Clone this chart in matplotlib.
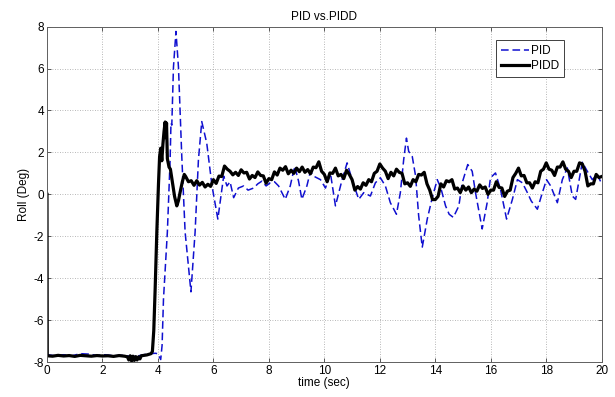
import matplotlib
matplotlib.use("Agg")
import matplotlib.pyplot as plt

plt.rcParams['font.family'] = ['Liberation Sans', 'DejaVu Sans']

title = "PID vs.PIDD"
xlabel = "time (sec)"
ylabel = "Roll (Deg)"
series_names = ["PID", "PIDD"]
x_ticks = [0, 2, 4, 6, 8, 10, 12, 14, 16, 18, 20]
y_ticks = [-8, -6, -4, -2, 0, 2, 4, 6, 8]

pid_time = [0, 0.01, 0.3, 0.6, 0.9, 1.2, 1.5, 1.8, 2.1, 2.4, 2.7, 3.0, 3.3, 3.6, 3.9, 4.0,
            4.1, 4.15, 4.2, 4.34, 4.44, 4.47, 4.5, 4.56, 4.65, 4.74, 4.86, 4.98, 5.19, 5.34,
            5.46, 5.58, 5.76, 5.95, 6.16, 6.37, 6.49, 6.6, 6.73, 6.9, 7.09, 7.25, 7.45, 7.6,
            7.75, 7.9, 8.05, 8.2, 8.35, 8.59, 8.77, 8.93, 9.07, 9.19, 9.37, 9.5, 9.61, 9.86,
            10.04, 10.22, 10.4, 10.64, 10.82, 11.0, 11.24, 11.42, 11.66, 11.84, 12.02, 12.2,
            12.38, 12.6, 12.74, 12.86, 12.96, 13.04, 13.17, 13.29, 13.4, 13.53, 13.71, 13.89,
            14.07, 14.2, 14.37, 14.5, 14.65, 14.85, 14.97, 15.17, 15.33, 15.45, 15.69, 15.87,
            15.99, 16.17, 16.35, 16.57, 16.78, 16.96, 17.14, 17.32, 17.46, 17.68, 17.86, 18.01,
            18.16, 18.4, 18.58, 18.76, 18.94, 19.06, 19.3, 19.48, 19.66, 19.84, 20.0]
pid_roll = [0, -7.65, -7.7, -7.65, -7.7, -7.6, -7.62, -7.68, -7.65, -7.7, -7.68, -7.72, -7.7, -7.62, -7.58, -7.6,
            -7.88, -7.2, -5.0, -1.8, 1.67, 3.4, 3.3, 6.07, 7.77, 6.07, 1.8, -1.8, -4.65, -1.8,
            1.65, 3.47, 2.44, 0.4, -1.18, 0.87, 0.4, 0.6, -0.16, 0.3, 0.4, 0.2, 0.3, 0.5,
            0.63, 0.4, 0.55, 0.6, 0.4, -0.24, 0.4, 1.34, 0.63, -0.24, 0.4, 1.1, 0.87, 0.7,
            0.3, 1.0, -0.55, 0.7, 1.5, 0.7, -0.24, 0.08, -0.08, 0.55, 0.79, 0.4,
            -0.4, -0.95, 0.08, 1.65, 2.68, 2.05, 1.8, 0.87, -1.02, -2.52, -1.18, -0.16,
            0.7, 0.3, -0.55, -0.95, -1.1, -0.55, 0.55, 1.42, 1.1, 0.08, -1.65, -0.4,
            0.79, 1.02, 0.24, -1.18, -0.24, 0.7, 0.55, 0.08, -0.32, -0.71, 0.08, 0.7,
            0.4, -0.4, 0.7, 1.26, -0.08, -0.24, 1.53, 1.1, 0.7, 0.94, 0.5]

pidd_time = [0, 0.01, 0.2, 0.4, 0.6, 0.8, 1.0, 1.2, 1.4, 1.6, 1.8, 2.0, 2.2, 2.4, 2.6, 2.8,
             2.9, 2.95, 3.0, 3.05, 3.1, 3.15, 3.2, 3.25, 3.3, 3.35, 3.4, 3.6, 3.75, 3.8,
             3.85, 3.9, 3.96, 4.02, 4.06, 4.1, 4.14, 4.18, 4.22, 4.26, 4.29, 4.31, 4.34, 4.4,
             4.45, 4.52, 4.6, 4.68, 4.74, 4.8, 4.88, 4.95,
             5.0, 5.1, 5.2, 5.3, 5.4, 5.5, 5.6, 5.7, 5.8, 5.9,
             6.0, 6.1, 6.2, 6.3, 6.4, 6.5, 6.6, 6.7, 6.8, 6.9,
             7.0, 7.1, 7.2, 7.3, 7.4, 7.5, 7.6, 7.7, 7.8, 7.9,
             8.0, 8.1, 8.2, 8.3, 8.4, 8.5, 8.6, 8.7, 8.8, 8.9,
             9.0, 9.1, 9.2, 9.3, 9.4, 9.5, 9.6, 9.7, 9.8, 9.9,
             10.0, 10.1, 10.2, 10.3, 10.4, 10.5, 10.6, 10.7, 10.8, 10.9,
             11.0, 11.1, 11.2, 11.3, 11.4, 11.5, 11.6, 11.7, 11.8, 11.9,
             12.0, 12.1, 12.2, 12.3, 12.4, 12.5, 12.6, 12.7, 12.8, 12.9,
             13.0, 13.1, 13.2, 13.3, 13.4, 13.5, 13.6, 13.7, 13.8, 13.9,
             14.0, 14.1, 14.2, 14.3, 14.4, 14.5, 14.6, 14.7, 14.8, 14.9,
             15.0, 15.1, 15.2, 15.3, 15.4, 15.5, 15.6, 15.7, 15.8, 15.9,
             16.0, 16.1, 16.2, 16.3, 16.4, 16.5, 16.6, 16.7, 16.8, 16.9,
             17.0, 17.1, 17.2, 17.3, 17.4, 17.5, 17.6, 17.7, 17.8, 17.9,
             18.0, 18.1, 18.2, 18.3, 18.4, 18.5, 18.6, 18.7, 18.8, 18.9,
             19.0, 19.1, 19.2, 19.3, 19.4, 19.5, 19.6, 19.7, 19.8, 19.9, 20.0]
pidd_roll = [0, -7.7, -7.72, -7.68, -7.71, -7.69, -7.73, -7.68, -7.7, -7.72, -7.69, -7.71, -7.7, -7.73, -7.69, -7.72,
             -7.75, -7.9, -7.7, -7.95, -7.72, -7.92, -7.74, -7.9, -7.75, -7.85, -7.7, -7.66, -7.6, -7.5,
             -6.5, -4.5, -1.8, 0.5, 1.8, 2.2, 1.6, 2.4, 3.0, 3.45, 2.7, 3.4, 1.7, 1.3,
             1.2, 0.6, -0.1, -0.55, -0.3, 0.1, 0.6, 0.95,
             0.85, 0.6, 0.65, 0.43, 0.65, 0.44, 0.57, 0.35, 0.48, 0.38,
             0.7, 0.52, 0.87, 0.85, 1.35, 1.2, 1.1, 0.93, 1.05, 0.9,
             1.17, 1.02, 1.05, 0.73, 0.9, 0.8, 1.07, 0.9, 0.88, 0.53,
             0.75, 0.7, 1.07, 0.92, 1.25, 1.15, 1.32, 0.98, 1.15, 1.0,
             1.25, 1.08, 1.3, 1.05, 1.18, 0.98, 1.3, 1.27, 1.55, 1.1,
             0.95, 0.6, 1.02, 1.0, 1.25, 0.88, 0.95, 0.75, 1.15, 0.95,
             0.7, 0.2, 0.37, 0.25, 0.55, 0.43, 0.7, 0.6, 1.0, 1.1,
             1.45, 1.25, 1.1, 0.75, 1.05, 0.88, 1.2, 1.05, 1.0, 0.5,
             0.55, 0.38, 0.7, 0.6, 0.95, 0.92, 1.05, 0.5, 0.2, -0.25,
             -0.25, -0.1, 0.5, 0.35, 0.65, 0.6, 0.7, 0.25, 0.3, 0.08,
             0.4, 0.2, 0.35, 0.08, 0.25, 0.15, 0.45, 0.28, 0.35, 0.0,
             0.2, 0.2, 0.6, 0.33, 0.3, -0.1, 0.15, 0.2, 0.8, 1.0,
             1.25, 0.88, 0.9, 0.55, 0.55, 0.3, 0.6, 0.55, 1.1, 1.2,
             1.5, 1.2, 1.15, 0.9, 1.3, 1.3, 1.55, 1.2, 1.1, 0.8,
             1.1, 1.1, 1.5, 1.45, 1.1, 0.4, 0.5, 0.5, 0.95, 0.8, 0.85]

fig = plt.figure(figsize=(6.15, 3.97), dpi=100)
ax = fig.add_axes([0.0764, 0.088, 0.902, 0.845])

ax.plot(pid_time, pid_roll, color='#1010d0', linestyle=(0, (5, 2.5)), linewidth=1.1, label=series_names[0])
ax.plot(pidd_time, pidd_roll, color='black', linestyle='-', linewidth=2.3, label=series_names[1])

ax.set_xlim(0, 20)
ax.set_ylim(-8, 8)
ax.set_xticks(x_ticks)
ax.set_yticks(y_ticks)
ax.set_xticklabels([str(v) for v in x_ticks], fontsize=8.5)
ax.set_yticklabels([str(v) for v in y_ticks], fontsize=8.5)
ax.tick_params(direction='in', top=True, right=True, length=3, width=0.6, color='#404040', pad=2)
ax.grid(True, linestyle=(0, (1, 2)), color='#a0a0a0', linewidth=0.6)
for s in ax.spines.values():
    s.set_color('#606060')
    s.set_linewidth(0.7)

ax.set_title(title, fontsize=8.5, pad=5)
ax.set_xlabel(xlabel, fontsize=8.5, labelpad=0)
ax.set_ylabel(ylabel, fontsize=8.5, labelpad=3)

leg = ax.legend(loc='upper right', bbox_to_anchor=(0.932, 0.96), fontsize=8.5, frameon=True,
                fancybox=False, edgecolor='#404040', framealpha=1, handlelength=2.4,
                handletextpad=0.1, borderpad=0.45, labelspacing=0.2, borderaxespad=0)
leg.get_frame().set_linewidth(0.7)

fig.savefig("out.png", dpi=100)
